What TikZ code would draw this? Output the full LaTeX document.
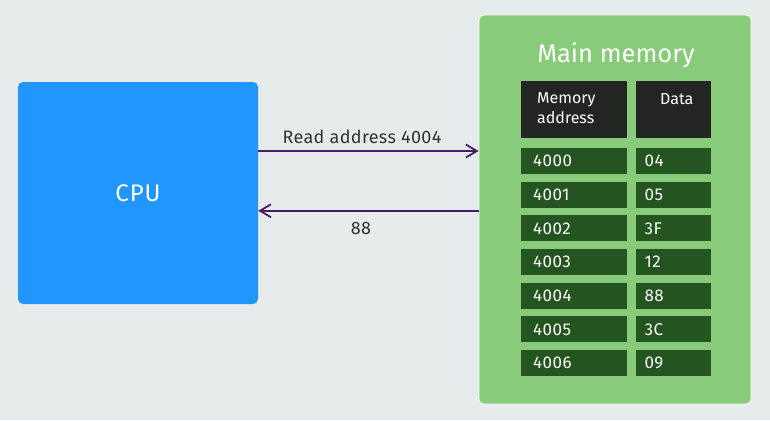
\documentclass[tikz,border=0pt]{standalone}
\usepackage{fontspec}
\setmainfont{Fira Sans}
\usetikzlibrary{arrows.meta}
\definecolor{bgc}{HTML}{E6ECEB}
\definecolor{cpuc}{HTML}{2196FF}
\definecolor{memc}{HTML}{88CB7A}
\definecolor{cellc}{HTML}{245520}
\definecolor{headc}{HTML}{232523}
\definecolor{arrc}{HTML}{4A1A6E}
\definecolor{labc}{HTML}{333333}
\tikzset{
  box/.style={rounded corners=5pt, inner sep=0pt},
  cell/.style={fill=cellc, minimum height=26pt, inner sep=0pt},
  acell/.style={cell, minimum width=106pt},
  dcell/.style={cell, minimum width=75pt},
  celltext/.style={text=white, font=\fontsize{17}{20}\selectfont\addfontfeatures{LetterSpace=3}, anchor=west, inner sep=0pt},
  arr/.style={draw=arrc, line width=1.8pt, -{Straight Barb[length=11pt,width=13pt,line width=1.8pt]}},
  lab/.style={text=labc, font=\fontsize{18}{21}\selectfont\addfontfeatures{LetterSpace=2}, inner sep=0pt}
}
\begin{document}
\begin{tikzpicture}[x=1pt,y=-1pt]
\fill[bgc] (0,0) rectangle (770,420);
\useasboundingbox (0,0) rectangle (770,420);
\node[box, fill=cpuc, minimum width=240pt, minimum height=222pt, text=white, font=\fontsize{24}{27}\selectfont\addfontfeatures{LetterSpace=4}] (cpu) at (138,193) {CPU};
\node[box, fill=memc, draw=white, line width=0.8pt, minimum width=272pt, minimum height=389pt] (mem) at (615,209.5) {};
\node[text=white, font=\fontsize{25.5}{30}\selectfont, inner sep=0pt] (title) at (616,55) {Main memory};
\node[fill=headc, minimum width=106pt, minimum height=57pt, inner sep=0pt] (ha) at (574,109.5) {};
\node[fill=headc, minimum width=75pt, minimum height=57pt, inner sep=0pt] (hd) at (673.5,109.5) {};
\node[text=white, font=\fontsize{16}{19.5}\selectfont, align=left, anchor=base west, inner sep=0pt] (hat) at (537,123.3) {Memory\\address};
\node[text=white, font=\fontsize{16}{19.5}\selectfont, anchor=base west, inner sep=0pt] (hdt) at (660,104) {Data};
\foreach \i/\a/\d in {0/4000/04,1/4001/05,2/4002/3F,3/4003/12,4/4004/88,5/4005/3C,6/4006/09}{
  \pgfmathsetmacro{\yy}{161+33.67*\i}
  \node[acell] (a\i) at (574,\yy) {};
  \node[dcell] (d\i) at (673.5,\yy) {};
  \node[celltext] (at\i) at ([xshift=12pt]a\i.west) {\a};
  \node[celltext] (dt\i) at ([xshift=8.5pt]d\i.west) {\d};
}
\draw[arr] ([yshift=42pt]cpu.east) -- ([yshift=58.5pt]mem.west);
\draw[arr] ([yshift=-1.3pt]mem.west) -- ([yshift=-17.8pt]cpu.east);
\node[lab] (l1) at (362,136.5) {Read address 4004};
\node[lab] (l2) at (361,228) {88};
\end{tikzpicture}
\end{document}
